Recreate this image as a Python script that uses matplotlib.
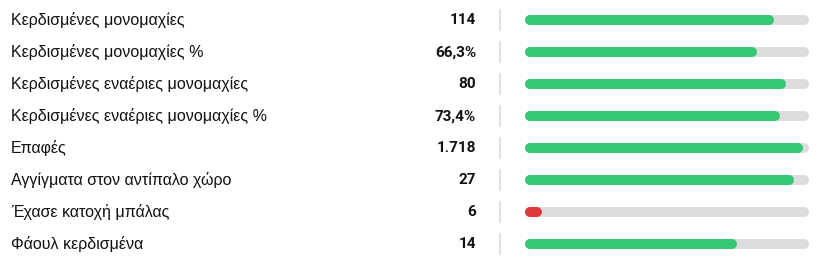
import matplotlib.pyplot as plt

# Data
labels = [
    "Κερδισμένες μονομαχίες",
    "Κερδισμένες μονομαχίες %",
    "Κερδισμένες εναέριες μονομαχίες",
    "Κερδισμένες εναέριες μονομαχίες %",
    "Επαφές",
    "Αγγίγματα στον αντίπαλο χώρο",
    "Έχασε κατοχή μπάλας",
    "Φάουλ κερδισμένα",
]
value_labels = ["114", "66,3%", "80", "73,4%", "1.718", "27", "6", "14"]
bar_share = [0.876, 0.817, 0.919, 0.898, 0.979, 0.947, 0.06, 0.746]
bar_colors = ["#34c873"] * 6 + ["#de3838", "#34c873"]

W, H, DPI = 824, 276, 100
fig = plt.figure(figsize=(W / DPI, H / DPI), dpi=DPI)

# text layer in pixel coordinates
ax = fig.add_axes([0, 0, 1, 1])
ax.set_xlim(0, W)
ax.set_ylim(H, 0)
ax.axis("off")

row_y = [20 + 32 * i for i in range(len(labels))]
for y, lab, val in zip(row_y, labels, value_labels):
    ax.text(11, y, lab, ha="left", va="center", fontsize=11.5,
            family="Liberation Sans", color="#111111")
    ax.text(476, y + 0.5, val, ha="right", va="center", fontsize=11,
            family="Roboto", fontweight="bold", color="#111111")
    ax.plot([500, 500], [y - 10, y + 10], color="#dcdcdc", lw=1.2)

# bar layer: x is share of the track
x0, x1 = 525, 809
bx = fig.add_axes([x0 / W, 0, (x1 - x0) / W, 1])
bx.set_xlim(0, 1)
bx.set_ylim(H, 0)
bx.axis("off")

r = 5 / (x1 - x0)  # cap radius in track units
lw = 10 * 72 / DPI
for y, share, c in zip(row_y, bar_share, bar_colors):
    bx.plot([r, 1 - r], [y, y], color="#dddddd", lw=lw, solid_capstyle="round")
    bx.plot([r, share - r], [y, y], color=c, lw=lw, solid_capstyle="round")

fig.savefig("out.png", dpi=DPI, facecolor="white")
